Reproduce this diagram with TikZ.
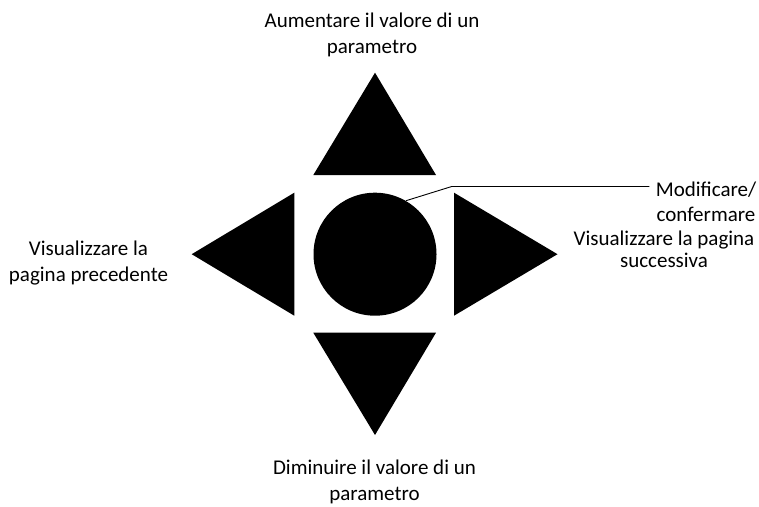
\documentclass[tikz,border=0pt]{standalone}
\usepackage{fontspec}
\setmainfont{Carlito}
\begin{document}
\begin{tikzpicture}[x=1pt,y=-1pt,
  lbl/.style={anchor=base,align=center,inner sep=0pt,font=\fontsize{21}{25.6}\selectfont},
  btn/.style={fill=black,draw=none}]
\useasboundingbox (0,0) rectangle (759,506);
% buttons
\fill[btn] (375,72.7) -- (436,175) -- (313.3,175) -- cycle;
\fill[btn] (313.3,332.7) -- (436,332.7) -- (375,435) -- cycle;
\fill[btn] (191.7,254.2) -- (294.3,192.7) -- (294.3,315.7) -- cycle;
\fill[btn] (557.5,254.2) -- (454,192.7) -- (454,315.7) -- cycle;
\node[btn,circle,minimum size=123pt,inner sep=0pt] (ok) at (375,254.2) {};
% labels (base anchor = last line baseline)
\node[lbl] (up) at (372,53.3) {Aumentare il valore di un\\parametro};
\node[lbl] (left) at (88.5,281) {Visualizzare la\\pagina precedente};
\node[lbl] (down) at (374.5,500.5) {Diminuire il valore di un\\parametro};
\node[lbl] (mod) at (706,221.7) {Modificare/\\confermare};
\node[lbl,font=\fontsize{21}{22.5}\selectfont] (right) at (664,267.5) {Visualizzare la pagina\\successiva};
% leader
\coordinate (k) at (451.7,186.5);
\coordinate (e) at (649.3,186.5);
\draw[line width=0.9pt] (ok.60) -- (k) -- (e);
\end{tikzpicture}
\end{document}
